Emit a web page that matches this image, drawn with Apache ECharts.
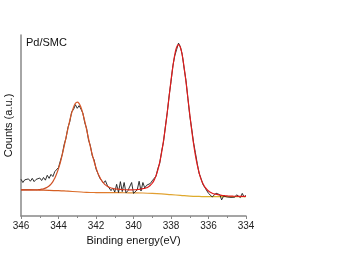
<!DOCTYPE html>
<html>
<head>
<meta charset="utf-8">
<title>Pd 3d XPS</title>
<script src="https://cdn.jsdelivr.net/npm/echarts@6.0.0/dist/echarts.min.js"></script>
<style>
  html, body { margin: 0; padding: 0; background: #fff; }
  #chart { width: 346px; height: 268px; }
</style>
</head>
<body>
<div id="chart"></div>
<script>
// binding energy grid of the measured scan (eV), 0.1 eV steps
const scanStart = 346;
const scanStep = 0.1;
const scanPoints = 121;

// raw counts (a.u.)
const rawCounts = [
  20.3, 18.5, 20.0, 19.0, 20.5, 19.2, 20.8, 19.0, 20.2, 19.5,
  21.0, 19.6, 21.3, 19.8, 22.5, 20.8, 23.0, 21.8, 24.5, 23.5,
  26.8, 30.5, 34.0, 39.5, 43.0, 48.8, 52.0, 57.5, 58.8, 61.5,
  59.5, 61.0, 59.0, 56.8, 51.5, 48.3, 42.0, 38.8, 33.2, 31.0,
  26.0, 23.5, 21.0, 20.5, 18.2, 19.5, 17.0, 16.2, 14.0, 15.5,
  13.2, 17.5, 13.0, 19.0, 13.5, 18.5, 12.8, 14.0, 13.0, 18.5,
  12.5, 13.2, 14.5, 19.2, 13.8, 18.5, 15.5, 17.0, 17.5, 18.0,
  19.5, 20.5, 22.0, 26.3, 29.2, 35.8, 41.0, 49.5, 57.0, 66.5,
  74.2, 83.0, 88.5, 92.0, 95.5, 93.5, 89.2, 81.5, 74.8, 65.0,
  55.5, 48.5, 40.8, 35.0, 29.0, 23.5, 20.8, 17.5, 15.8, 14.8,
  12.5, 13.0, 10.5, 9.8, 12.6, 11.5, 11.8, 8.9, 11.0, 10.2,
  10.5, 11.2, 10.3, 11.0, 10.4, 11.7, 10.6, 10.2, 12.5, 10.5,
  11.4
];

// fitted envelope (a.u.) on the same grid
const fitCounts = [
  14.4, 14.4, 14.4, 14.4, 14.4, 14.4, 14.4, 14.4, 14.4, 14.5,
  14.6, 14.8, 15.0, 15.4, 15.9, 16.6, 17.6, 19.0, 20.9, 23.3,
  26.2, 29.6, 34.0, 38.5, 43.3, 48.2, 52.7, 56.8, 60.0, 62.2,
  62.9, 62.1, 59.9, 56.5, 52.4, 47.7, 42.9, 38.2, 34.0, 30.1,
  26.7, 23.7, 21.5, 19.6, 18.3, 17.2, 16.5, 15.9, 15.5, 15.2,
  15.0, 14.9, 14.8, 14.7, 14.6, 14.5, 14.5, 14.5, 14.4, 14.4,
  14.5, 14.5, 14.6, 14.7, 14.9, 15.1, 15.3, 15.6, 16.1, 17.0,
  18.1, 19.8, 22.2, 25.5, 29.8, 35.1, 41.5, 48.9, 57.3, 66.0,
  74.8, 82.5, 89.0, 93.3, 94.7, 93.1, 88.7, 82.0, 74.1, 65.2,
  56.3, 47.7, 40.2, 33.6, 28.2, 23.9, 20.4, 18.0, 16.1, 14.9,
  13.8, 13.1, 12.6, 12.2, 12.0, 11.8, 11.6, 11.4, 11.3, 11.2,
  11.1, 11.0, 11.0, 10.95, 10.9, 10.9, 10.85, 10.85, 10.8, 10.8,
  10.8
];

// background line
const bgEnergy = [
  346, 345.5, 345, 344.5, 344, 343.5, 343, 342.5, 342, 341.5,
  341, 340.5, 340, 339.5, 339, 338.5, 338, 337.5, 337, 336.5,
  336, 335.5, 335, 334.5, 334
];
const bgCounts = [
  14.4, 14.4, 14.3, 14.2, 14.0, 13.7, 13.4, 13.1, 12.95, 12.9,
  12.9, 12.85, 12.8, 12.7, 12.5, 12.2, 11.8, 11.4, 11.0, 10.8,
  10.7, 10.7, 10.7, 10.7, 10.7
];

const xTicks = { min: 334, max: 346, step: 2 };
const sampleName = 'Pd/SMC';

const energy = [];
for (let i = 0; i < scanPoints; i++) {
  energy.push(+(scanStart - i * scanStep).toFixed(1));
}
const pairs = (xs, ys) => xs.map((x, i) => [x, ys[i]]);

const chart = echarts.init(document.getElementById('chart'), null, { renderer: 'canvas' });
const font = 'Liberation Sans, Arial, sans-serif';

chart.setOption({
  animation: false,
  backgroundColor: '#ffffff',
  title: {
    text: sampleName,
    left: 21,
    top: 32,
    textStyle: { fontFamily: font, fontSize: 11, fontWeight: 'normal', color: '#111' }
  },
  grid: { left: 21, right: 100, top: 35, bottom: 52, outerBoundsMode: 'none', containLabel: false },
  xAxis: {
    type: 'value',
    inverse: true,
    min: xTicks.min,
    max: xTicks.max,
    interval: xTicks.step,
    name: 'Binding energy(eV)',
    nameLocation: 'middle',
    nameGap: 19,
    nameTextStyle: { fontFamily: font, fontSize: 11, color: '#111' },
    axisLine: { lineStyle: { color: '#888', width: 1.5 } },
    axisTick: { show: true, length: 3, lineStyle: { color: '#888' } },
    minorTick: { show: true, splitNumber: 2, length: 2, lineStyle: { color: '#888' } },
    axisLabel: { fontFamily: font, fontSize: 10, color: '#222', margin: 5 },
    splitLine: { show: false }
  },
  yAxis: {
    type: 'value',
    min: 0,
    max: 100,
    name: 'Counts (a.u.)',
    nameLocation: 'middle',
    nameGap: 7,
    nameTextStyle: { fontFamily: font, fontSize: 11, color: '#111' },
    axisLine: { show: true, lineStyle: { color: '#888', width: 1.5 } },
    axisTick: { show: false },
    axisLabel: { show: false },
    splitLine: { show: false }
  },
  series: [
    {
      name: 'background',
      type: 'line',
      smooth: true,
      showSymbol: false,
      data: pairs(bgEnergy, bgCounts),
      lineStyle: {
        width: 1.2,
        color: new echarts.graphic.LinearGradient(0, 0, 1, 0, [
          { offset: 0, color: '#cc4a1c' },
          { offset: 0.35, color: '#e0782c' },
          { offset: 0.6, color: '#e2a032' },
          { offset: 1, color: '#d8bc22' }
        ])
      }
    },
    {
      name: 'raw',
      type: 'line',
      showSymbol: false,
      data: pairs(energy, rawCounts),
      lineStyle: { width: 0.9, color: '#1a1a1a' }
    },
    {
      name: 'fit',
      type: 'line',
      smooth: true,
      showSymbol: false,
      data: pairs(energy, fitCounts),
      lineStyle: {
        width: 1.2,
        color: new echarts.graphic.LinearGradient(0, 0, 1, 0, [
          { offset: 0, color: '#c0401c' },
          { offset: 0.25, color: '#d85a28' },
          { offset: 0.4, color: '#d84422' },
          { offset: 0.55, color: '#e01c1c' },
          { offset: 1, color: '#e01c1c' }
        ])
      }
    }
  ]
});
</script>
</body>
</html>
